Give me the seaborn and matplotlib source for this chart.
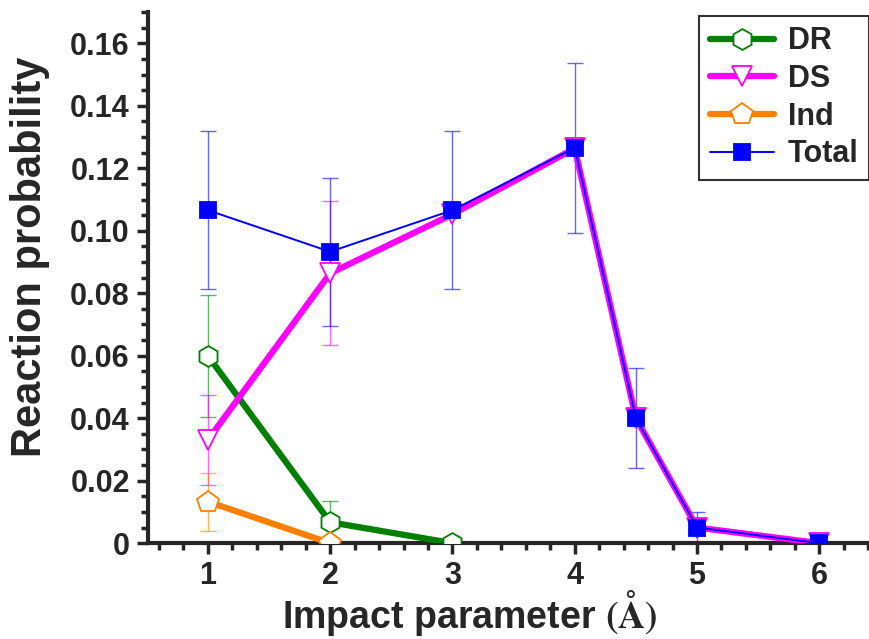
import numpy as np
import pandas as pd
import seaborn as sns
import matplotlib.pyplot as plt
from matplotlib.ticker import MultipleLocator, FuncFormatter

# impact parameters (Angstrom)
b_dr = [1, 2, 3]
dr = [0.060, 0.0067, 0.0]
dr_err = [0.0195, 0.0067, 0.0]

b_ds = [1, 2, 3, 4, 4.5, 5, 6]
ds = [0.033, 0.0864, 0.1053, 0.1264, 0.040, 0.0050, 0.0]
ds_err = [0.0145, 0.0230, 0.0, 0.0, 0.0, 0.0, 0.0]

b_ind = [1, 2]
ind = [0.0133, 0.0]
ind_err = [0.0093, 0.0]

b_tot = [1, 2, 3, 4, 4.5, 5, 6]
tot = [0.1066, 0.0933, 0.1066, 0.1266, 0.0400, 0.0050, 0.0]
tot_err = [0.0252, 0.0237, 0.0252, 0.0272, 0.0160, 0.0049, 0.0]

sns.set_style("ticks")
plt.rcParams['font.family'] = ['Liberation Sans', 'DejaVu Sans']
plt.rcParams['font.weight'] = 'bold'
plt.rcParams['mathtext.fontset'] = 'stix'

fig = plt.figure(figsize=(8.7, 6.39), dpi=100)
ax = fig.add_axes([0.170, 0.150, 0.828, 0.831])

series = [
    ("DR", b_dr, dr, dr_err, "#008000", "h", 15, 4.5),
    ("DS", b_ds, ds, ds_err, "#ff00ff", "v", 15, 4.5),
    ("Ind", b_ind, ind, ind_err, "#ff8000", "p", 16, 4.5),
    ("Total", b_tot, tot, tot_err, "#0000ff", "s", 11, 1.4),
]

for name, x, y, err, col, mk, ms, lw in series:
    ax.errorbar(x, y, yerr=err, fmt='none', ecolor=col, elinewidth=1.0,
                capsize=6, capthick=1.0, alpha=0.6, zorder=2)

for name, x, y, err, col, mk, ms, lw in series:
    df = pd.DataFrame({"b": x, "p": y})
    filled = name == "Total"
    sns.lineplot(data=df, x="b", y="p", ax=ax, color=col, lw=lw, label=name,
                 marker=mk, markersize=ms,
                 markerfacecolor=col if filled else "white",
                 markeredgecolor=col, markeredgewidth=1.3, zorder=3)

ax.set_xlim(0.51, 6.4)
ax.set_ylim(0, 0.17)
ax.xaxis.set_major_locator(MultipleLocator(1))
ax.xaxis.set_minor_locator(MultipleLocator(0.2))
ax.yaxis.set_major_locator(MultipleLocator(0.02))
ax.yaxis.set_minor_locator(MultipleLocator(0.005))
ax.set_xticks([1, 2, 3, 4, 5, 6])
ax.yaxis.set_major_formatter(FuncFormatter(lambda v, p: "0" if abs(v) < 1e-9 else f"{v:.2f}"))

for s in ["top", "right"]:
    ax.spines[s].set_visible(False)
for s in ["left", "bottom"]:
    ax.spines[s].set_linewidth(3)
ax.tick_params(which="major", length=8, width=2.5, labelsize=22, pad=5)
ax.tick_params(which="minor", length=5, width=2.5)
for lab in ax.get_xticklabels() + ax.get_yticklabels():
    lab.set_fontweight("bold")

ax.set_xlabel(r"Impact parameter $\mathbf{(\AA)}$", fontsize=27, fontweight="bold")
ax.set_ylabel("Reaction probability", fontsize=30, fontweight="bold")
ax.xaxis.set_label_coords(0.447, -0.085)
ax.yaxis.set_label_coords(-0.136, 0.54)

leg = ax.legend(loc="upper right", bbox_to_anchor=(1.01, 1.005), fontsize=22,
                frameon=True, fancybox=False, handlelength=2.1, borderpad=0.35,
                labelspacing=0.25, handletextpad=0.45, borderaxespad=0.2)
leg.get_frame().set_edgecolor("black")
leg.get_frame().set_linewidth(1.5)
for t in leg.get_texts():
    t.set_fontweight("bold")

fig.savefig("out.png", dpi=100)
